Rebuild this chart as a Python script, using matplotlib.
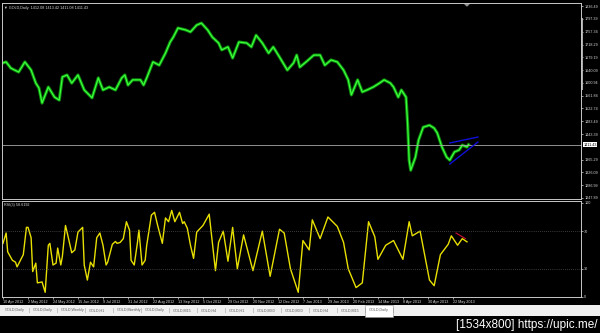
import numpy as np
import matplotlib
matplotlib.use("Agg")
import matplotlib.pyplot as plt
from matplotlib.patches import Rectangle, Polygon

plt.rcParams["font.family"] = ["Liberation Sans", "DejaVu Sans"]

# GOLD daily closes, trading-day index counted from 10 Apr 2012
days = [0, 2, 5, 10, 14, 18, 21, 23, 25, 29, 33, 36, 38, 41, 44, 48, 52, 57, 61, 64, 68,
        72, 76, 78, 80, 83, 88, 90, 92, 96, 100, 104, 107, 109, 112, 117, 120, 124, 127,
        131, 134, 138, 140, 144, 147, 151, 156, 159, 162, 166, 170, 173, 177, 182, 186,
        188, 190, 194, 199, 203, 206, 210, 214, 218, 221, 223, 227, 230, 233, 237, 241,
        244, 248, 250, 253, 255, 258, 259, 260, 261, 264, 266, 269, 273, 276, 278, 281,
        284, 286, 289, 292, 294, 297, 298]
close = [1662, 1665, 1646, 1634, 1665, 1640, 1600, 1585, 1539, 1588, 1557, 1548, 1619,
         1625, 1600, 1625, 1579, 1555, 1616, 1579, 1588, 1579, 1616, 1625, 1594, 1610,
         1610, 1594, 1616, 1665, 1655, 1692, 1726, 1741, 1769, 1763, 1757, 1778, 1784,
         1763, 1741, 1723, 1702, 1711, 1677, 1726, 1723, 1711, 1747, 1723, 1692, 1711,
         1680, 1640, 1662, 1686, 1649, 1665, 1686, 1686, 1655, 1671, 1665, 1640, 1610,
         1564, 1610, 1573, 1579, 1588, 1600, 1610, 1600, 1588, 1557, 1579, 1557, 1477,
         1364, 1333, 1373, 1425, 1465, 1471, 1462, 1447, 1404, 1373, 1364, 1389, 1395,
         1410, 1404, 1411.43]

# RSI values (same day index scale)
rsi_days = [0, 2, 3, 6, 8, 9, 13, 15, 16, 18, 19, 21, 22, 25, 27, 29, 30, 32, 34, 35, 37,
            38, 40, 41, 44, 46, 48, 51, 52, 54, 56, 58, 60, 62, 64, 66, 67, 70, 72, 73, 75,
            77, 79, 81, 82, 84, 86, 87, 89, 91, 92, 95, 97, 99, 102, 104, 106, 108, 110,
            113, 115, 116, 118, 120, 122, 124, 128, 132, 136, 138, 141, 144, 147, 150, 154,
            160, 166, 171, 177, 180, 184, 189, 192, 196, 198, 203, 208, 214, 218, 221, 226,
            230, 234, 238, 240, 245, 250, 253, 256, 260, 262, 267, 273, 276, 280, 285, 287,
            291, 294, 297]
rsi = [57, 68, 48, 39, 37, 32, 45, 74, 74, 63, 27, 36, 15, 16, 5, 55, 57, 34, 36, 52, 34,
       43, 76, 69, 47, 50, 69, 74, 34, 18, 37, 32, 63, 68, 55, 34, 37, 56, 59, 57, 58, 62,
       80, 71, 39, 34, 57, 71, 34, 39, 55, 87, 90, 76, 57, 84, 80, 92, 80, 90, 78, 80, 73,
       55, 41, 69, 76, 88, 28, 58, 70, 38, 74, 30, 66, 28, 70, 22, 72, 68, 30, 5, 60, 50,
       82, 62, 85, 75, 58, 30, 10, 15, 80, 64, 40, 55, 60, 50, 40, 80, 65, 70, 18, 12, 45,
       56, 65, 55, 62, 58.62]

price_ticks = [1836.49, 1797.39, 1757.34, 1718.29, 1679.19, 1640.09, 1600.94, 1561.84,
               1522.74, 1483.49, 1443.39, 1365.29, 1326.09, 1286.99, 1247.89]
date_labels = ["10 Apr 2012", "2 May 2012", "24 May 2012", "15 Jun 2012", "9 Jul 2012",
               "31 Jul 2012", "22 Aug 2012", "13 Sep 2012", "5 Oct 2012", "29 Oct 2012",
               "20 Nov 2012", "12 Dec 2012", "7 Jan 2013", "29 Jan 2013", "20 Feb 2013",
               "14 Mar 2013", "8 Apr 2013", "30 Apr 2013", "22 May 2013"]
date_step = 16
tabs = ["GOLD,Daily", "GOLD,Daily", "GOLD,Weekly", "GOLD,H1", "GOLD,Monthly", "GOLD,Daily",
        "GOLD,M15", "GOLD,H4", "GOLD,H1", "GOLD,M30", "GOLD,M30", "GOLD,H4", "GOLD,M15",
        "GOLD,Daily"]

# wedge drawn on the chart: (day, price)
wedge_upper = [(286, 1416.5), (304, 1434.8)]
wedge_lower = [(286, 1352.0), (304, 1419.5)]
last_price = 1411.43
last_rsi = 58.6192

W, H = 600, 333
GRID = "#c8c8c8"
TXT = "#d8d8d8"
FS = 2.7


def fx(px):
    return px / W


def fy(py):
    return 1 - py / H


fig = plt.figure(figsize=(6, 3.33), dpi=100, facecolor="black")

# main price panel
ax = fig.add_axes([fx(2), fy(199), fx(579), 196 / H], facecolor="black")
ax.plot(days, close, color="#0c8c0c", lw=2.3)
ax.plot(days, close, color="#3cff3c", lw=0.9)
ax.axhline(last_price, color="#a8a8a8", lw=0.6)
for seg in (wedge_upper, wedge_lower):
    xs, ys = zip(*seg)
    ax.plot(xs, ys, color="#1010d8", lw=1.0)
ax.set_xlim(-0.64, 370)
ax.set_ylim(1244.8, 1845.7)
ax.yaxis.tick_right()
ax.set_yticks(price_ticks)
ax.set_yticklabels([f"{p:.2f}" for p in price_ticks])
ax.tick_params(axis="y", colors=TXT, labelsize=FS, length=1.5, width=0.5, pad=0.8)
ax.set_xticks([])
for s in ax.spines.values():
    s.set_color(GRID)
    s.set_linewidth(0.7)
ax.text(0.004, 0.985, "\u25bc GOLD,Daily  1412.08 1413.42 1411.08 1411.43",
        transform=ax.transAxes, color=TXT, fontsize=FS, va="top", ha="left")
ax.text(1.004, (last_price - 1244.8) / (1845.7 - 1244.8), f"{last_price:.2f}",
        transform=ax.transAxes, color="black", fontsize=FS, va="center", ha="left",
        bbox=dict(boxstyle="square,pad=0.15", fc="white", ec="none"))
ax.plot([1.001, 1.001], [0.56, 0.92], transform=ax.transAxes, color="#b0b0b0",
        lw=1.4, clip_on=False)
ax.add_patch(Polygon([[0.799, 0.997], [0.807, 0.997], [0.803, 0.985]],
                     closed=True, transform=ax.transAxes, color="#909090"))

# RSI panel
ax2 = fig.add_axes([fx(2), fy(297), fx(579), 96 / H], facecolor="black")
ax2.plot(rsi_days, rsi, color="#e8e000", lw=1.0)
ax2.plot([290, 296], [68, 62], color="#d01030", lw=0.8)
for lvl in (70, 30):
    ax2.axhline(lvl, color="#707070", lw=0.5, ls=(0, (1, 2)))
ax2.set_xlim(-0.64, 370)
ax2.set_ylim(0, 102)
ax2.yaxis.tick_right()
ax2.set_yticks([100, 70, 30, 0])
ax2.tick_params(axis="y", colors=TXT, labelsize=FS, length=1.5, width=0.5, pad=0.8)
ax2.set_xticks([i * date_step for i in range(len(date_labels))])
ax2.set_xticklabels(date_labels, ha="left")
ax2.tick_params(axis="x", colors=TXT, labelsize=FS, length=1.5, width=0.5, pad=0.8)
for s in ax2.spines.values():
    s.set_color(GRID)
    s.set_linewidth(0.7)
ax2.text(0.004, 0.975, f"RSI(3) {last_rsi:.4f}", transform=ax2.transAxes, color=TXT,
         fontsize=FS, va="top", ha="left")

# tab strip
fig.patches.append(Rectangle((0, fy(316)), 1, 11 / H, transform=fig.transFigure,
                             fc="#f0f0f0", ec="none"))
x0 = 3
for i, t in enumerate(tabs):
    w = 28
    active = i == len(tabs) - 1
    if active:
        fig.patches.append(Rectangle((fx(x0 - 2), fy(317)), fx(w), 12 / H,
                                     transform=fig.transFigure, fc="white", ec="#909090",
                                     lw=0.4))
    fig.text(fx(x0 + 2), fy(310.5), t, color="#606060", fontsize=2.7, va="center")
    fig.text(fx(x0 + w - 2), fy(310.5), "|", color="#909090", fontsize=3.5, va="center")
    x0 += w

fig.text(0.995, fy(325), "[1534x800] https://upic.me/", color="white", fontsize=8.5,
         ha="right", va="center")

fig.savefig("out.png", dpi=100, facecolor="black")
